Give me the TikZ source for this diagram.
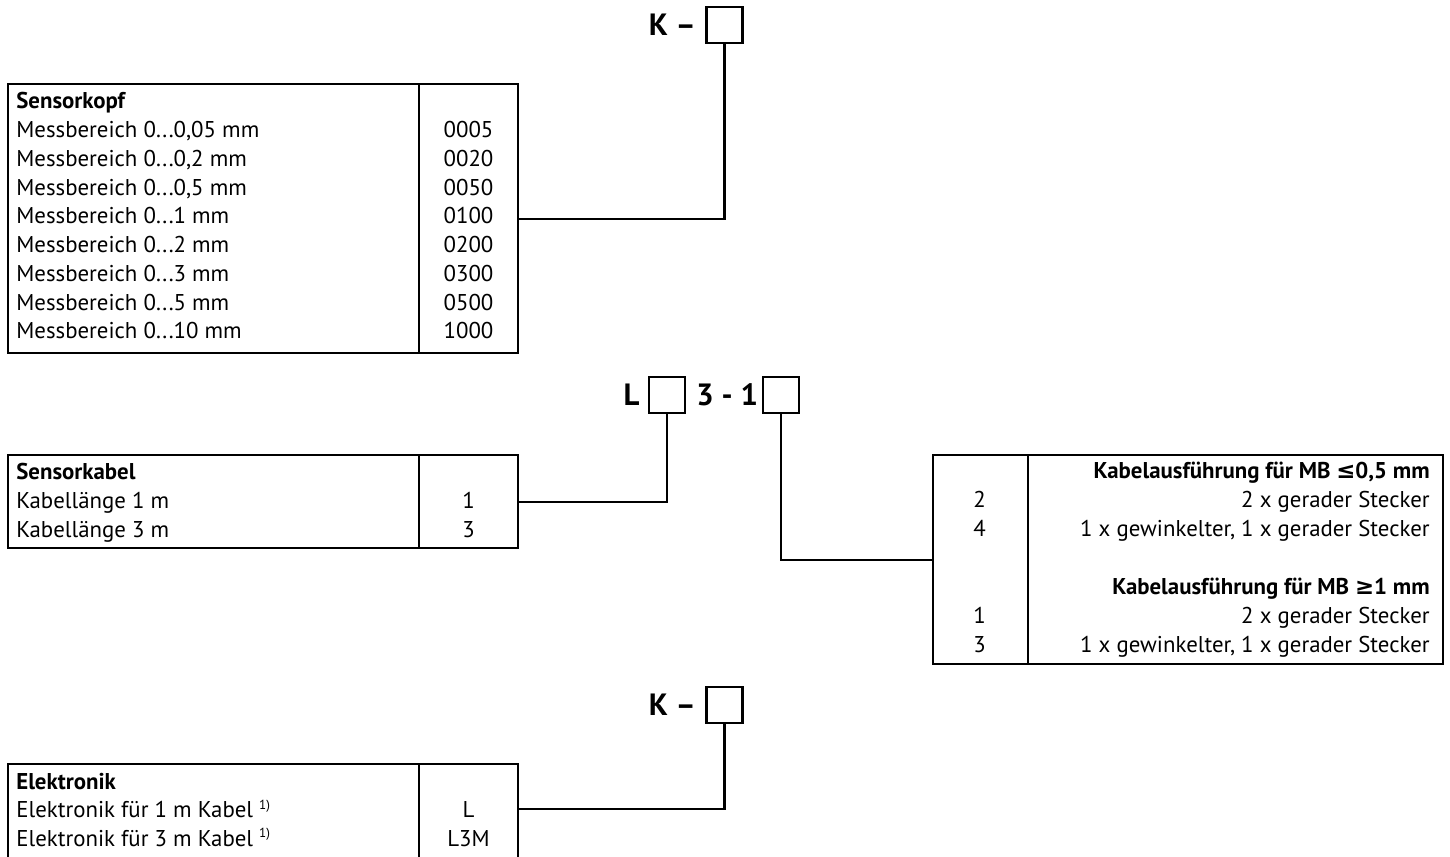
\documentclass[tikz,border=0pt]{standalone}
\usepackage{fontspec}
\setmainfont{PT Sans}
\newfontfamily\symfont{DejaVu Sans}
\usetikzlibrary{positioning}

\tikzset{
  wire/.style={line width=1.2pt},
  tabcol/.style={draw, line width=1.4pt, inner sep=0pt, anchor=north west},
  codebox/.style={draw, line width=1.3pt, inner sep=0pt, minimum size=0.72cm},
  codetext/.style={font=\fontsize{17.5}{20}\selectfont\bfseries, inner sep=0pt},
  rowtext/.style={font=\fontsize{13}{15}\selectfont, inner sep=0pt, anchor=base west},
  rowhead/.style={font=\fontsize{13}{15}\selectfont\bfseries, inner sep=0pt, anchor=base west},
  rowval/.style={font=\fontsize{13}{15}\selectfont, inner sep=0pt, anchor=base},
  rowright/.style={font=\fontsize{13}{15}\selectfont, inner sep=0pt, anchor=base east},
}

\begin{document}
\begin{tikzpicture}[x=0.02cm, y=-0.02cm]
  \useasboundingbox (0,0) rectangle (1450,857);

  % Sensorkopf
  \node[codebox] (kopfbox) at (724.5,25) {};
  \node[codetext, left=0.18cm of kopfbox] (kopfcode) {K –};
  \node[tabcol, minimum width=8.22cm, minimum height=5.38cm] (kopfdesc) at (7,83) {};
  \node[tabcol, minimum width=1.98cm, minimum height=5.38cm] (kopfval) at (418,83) {};
  \node[rowhead] (kopfhead) at (16,109) {Sensorkopf};
  \foreach \txt/\val [count=\i] in {{Messbereich 0...0,05 mm}/0005, {Messbereich 0...0,2 mm}/0020,
      {Messbereich 0...0,5 mm}/0050, {Messbereich 0...1 mm}/0100, {Messbereich 0...2 mm}/0200,
      {Messbereich 0...3 mm}/0300, {Messbereich 0...5 mm}/0500, {Messbereich 0...10 mm}/1000} {
    \node[rowtext] (kopftxt\i) at (16,{109+28.75*\i}) {\txt};
    \node[rowval] (kopfnr\i) at (468.5,{109+28.75*\i}) {\val};
  }
  \draw[wire] (kopfbox.south) |- (kopfval.east);

  % Sensorkabel und Kabelausfuehrung
  \node[codebox] (laengebox) at (667,395) {};
  \node[codetext, left=0.16cm of laengebox] (laengecode) {L};
  \node[codetext, right=0.2cm of laengebox] (dreicode) {3 - 1};
  \node[codebox] (steckerbox) at (781,395) {};

  \node[tabcol, minimum width=8.22cm, minimum height=1.86cm] (kabeldesc) at (7,454) {};
  \node[tabcol, minimum width=1.98cm, minimum height=1.86cm] (kabelval) at (418,454) {};
  \node[rowhead] (kabelhead) at (16,480) {Sensorkabel};
  \foreach \val [count=\i] in {1,3} {
    \node[rowtext] (kabeltxt\i) at (16,{480+28.75*\i}) {Kabellänge \val\ m};
    \node[rowval] (kabelnr\i) at (468.5,{480+28.75*\i}) {\val};
  }
  \draw[wire] (laengebox.south) |- (kabelval.east);

  \node[tabcol, minimum width=1.9cm, minimum height=4.18cm] (ausfval) at (932,454) {};
  \node[tabcol, minimum width=8.3cm, minimum height=4.18cm] (ausfdesc) at (1027,454) {};
  \node[rowright, font=\fontsize{13}{15}\selectfont\bfseries] (ausfheadA) at (1430,479) {Kabelausführung für MB {\symfont ≤}0,5 mm};
  \node[rowval] (ausfnrA) at (979.5,508) {2};
  \node[rowright] (ausftxtA) at (1430,508) {2 x gerader Stecker};
  \node[rowval] (ausfnrB) at (979.5,537) {4};
  \node[rowright] (ausftxtB) at (1430,537) {1 x gewinkelter, 1 x gerader Stecker};
  \node[rowright, font=\fontsize{13}{15}\selectfont\bfseries] (ausfheadB) at (1430,595) {Kabelausführung für MB {\symfont ≥}1 mm};
  \node[rowval] (ausfnrC) at (979.5,623) {1};
  \node[rowright] (ausftxtC) at (1430,623) {2 x gerader Stecker};
  \node[rowval] (ausfnrD) at (979.5,652) {3};
  \node[rowright] (ausftxtD) at (1430,652) {1 x gewinkelter, 1 x gerader Stecker};
  \draw[wire] (steckerbox.south) |- (ausfval.west);

  % Elektronik
  \node[codebox] (elekbox) at (724.5,705) {};
  \node[codetext, left=0.18cm of elekbox] (elekcode) {K –};
  \node[tabcol, minimum width=8.22cm, minimum height=2.0cm] (elekdesc) at (7,763) {};
  \node[tabcol, minimum width=1.98cm, minimum height=2.0cm] (elekval) at (418,763) {};
  \node[rowhead] (elekhead) at (16,789) {Elektronik};
  \foreach \len/\val [count=\i] in {1/L, 3/L3M} {
    \node[rowtext] (elektxt\i) at (16,{789+28.75*\i}) {Elektronik für \len\ m Kabel \raisebox{0.75ex}{\fontsize{7.5}{8}\selectfont 1)}};
    \node[rowval] (eleknr\i) at (468.5,{789+28.75*\i}) {\val};
  }
  \draw[wire] (elekbox.south) |- ([yshift=-0.92cm]elekval.north east);
\end{tikzpicture}
\end{document}
